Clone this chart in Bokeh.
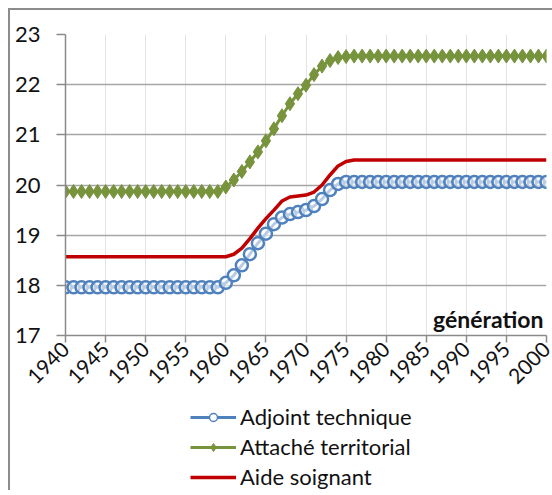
import math
from bokeh.plotting import figure
from bokeh.layouts import column
from bokeh.models import (Range1d, FixedTicker, Legend, LegendItem, Label, ColumnDataSource)
from bokeh.embed import file_html
from bokeh.resources import INLINE

years = list(range(1940, 2001))

adjoint_technique = [
    17.96, 17.96, 17.96, 17.96, 17.96, 17.96, 17.96, 17.96, 17.96, 17.96,
    17.96, 17.96, 17.96, 17.96, 17.96, 17.96, 17.96, 17.96, 17.96, 17.96,
    18.05, 18.20, 18.40, 18.62, 18.84, 19.03, 19.22, 19.35, 19.42, 19.46,
    19.50, 19.58, 19.72, 19.90, 20.02, 20.06,
    20.06, 20.06, 20.06, 20.06, 20.06, 20.06, 20.06, 20.06, 20.06, 20.06,
    20.06, 20.06, 20.06, 20.06, 20.06, 20.06, 20.06, 20.06, 20.06, 20.06,
    20.06, 20.06, 20.06, 20.06, 20.06,
]

attache_territorial = [
    19.87, 19.87, 19.87, 19.87, 19.87, 19.87, 19.87, 19.87, 19.87, 19.87,
    19.87, 19.87, 19.87, 19.87, 19.87, 19.87, 19.87, 19.87, 19.87, 19.87,
    19.96, 20.10, 20.27, 20.46, 20.66, 20.88, 21.12, 21.38, 21.62, 21.82,
    21.99, 22.20, 22.37, 22.48, 22.54, 22.56,
    22.57, 22.57, 22.57, 22.57, 22.57, 22.57, 22.57, 22.57, 22.57, 22.57,
    22.57, 22.57, 22.57, 22.57, 22.57, 22.57, 22.57, 22.57, 22.57, 22.57,
    22.57, 22.57, 22.57, 22.57, 22.57,
]

aide_soignant = [
    18.57, 18.57, 18.57, 18.57, 18.57, 18.57, 18.57, 18.57, 18.57, 18.57,
    18.57, 18.57, 18.57, 18.57, 18.57, 18.57, 18.57, 18.57, 18.57, 18.57,
    18.57, 18.62, 18.74, 18.93, 19.14, 19.33, 19.50, 19.68, 19.76, 19.78,
    19.80, 19.86, 20.00, 20.20, 20.38, 20.47,
    20.50, 20.50, 20.50, 20.50, 20.50, 20.50, 20.50, 20.50, 20.50, 20.50,
    20.50, 20.50, 20.50, 20.50, 20.50, 20.50, 20.50, 20.50, 20.50, 20.50,
    20.50, 20.50, 20.50, 20.50, 20.50,
]

x_ticks = [1940, 1945, 1950, 1955, 1960, 1965, 1970, 1975, 1980, 1985, 1990, 1995, 2000]
y_ticks = [17, 18, 19, 20, 21, 22, 23]
series_names = ["Adjoint technique", "Attaché territorial", "Aide soignant"]
axis_title = "génération"

FONT = "Lato"
BLUE = "#4f81bd"
GREEN = "#77933c"
RED = "#c00000"
TXT = "#111111"

src = ColumnDataSource(dict(x=years, a=adjoint_technique, t=attache_territorial, s=aide_soignant))

W = 542
p = figure(width=W, height=390, output_backend="svg", toolbar_location=None,
           x_range=Range1d(1940, 2000), y_range=Range1d(17, 23),
           min_border_left=55, min_border_right=6, min_border_top=24, min_border_bottom=65)
p.outline_line_color = None
p.background_fill_color = "white"
p.border_fill_color = "white"

# grids
p.xgrid.ticker = FixedTicker(ticks=x_ticks)
p.ygrid.ticker = FixedTicker(ticks=y_ticks)
p.xgrid.grid_line_color = "#e3e3e3"
p.xgrid.grid_line_width = 1
p.ygrid.grid_line_color = "#a6a6a6"
p.ygrid.grid_line_width = 1.5

# axes
for ax in (p.xaxis[0], p.yaxis[0]):
    ax.axis_line_color = "#8a8a8a"
    ax.axis_line_width = 1.5
    ax.major_tick_line_color = "#8a8a8a"
    ax.major_tick_line_width = 1.5
    ax.minor_tick_line_color = None
    ax.major_label_text_font = FONT
    ax.major_label_text_font_size = "22px"
    ax.major_label_text_color = TXT
p.xaxis.ticker = FixedTicker(ticks=x_ticks)
p.yaxis.ticker = FixedTicker(ticks=y_ticks)
p.xaxis.major_label_text_font_size = "21px"
p.xaxis.major_tick_out = 7
p.xaxis.major_tick_in = 0
p.yaxis.major_tick_out = 9
p.yaxis.major_tick_in = 0
p.xaxis.major_label_orientation = math.pi / 4
p.xaxis.major_label_standoff = 3
p.yaxis.major_label_standoff = 16

# series
la = p.line("x", "a", source=src, line_color=BLUE, line_width=3)
sa = p.scatter("x", "a", source=src, marker="circle", size=12, line_color=BLUE,
               line_width=2.5, fill_color="white", fill_alpha=0.6)
lt = p.line("x", "t", source=src, line_color=GREEN, line_width=3)
st = p.scatter("x", "t", source=src, marker="diamond", size=14, line_color=GREEN,
               line_width=1, fill_color=GREEN)
ls = p.line("x", "s", source=src, line_color=RED, line_width=3.5)

p.add_layout(Label(x=2000, y=17, x_offset=-3, y_offset=17, text=axis_title,
                   text_align="right", text_baseline="alphabetic",
                   text_font=FONT, text_font_size="23px", text_font_style="bold",
                   text_color=TXT))

# legend strip below the chart (its renderers use the same data, kept out of view)
q = figure(width=W, height=90, output_backend="svg", toolbar_location=None,
           x_range=Range1d(0, 1), y_range=Range1d(0, 1),
           x_axis_location=None, y_axis_location=None,
           min_border_left=0, min_border_right=0, min_border_top=0, min_border_bottom=0)
q.outline_line_color = None
q.xgrid.visible = False
q.ygrid.visible = False
ga1 = q.line("x", "a", source=src, line_color=BLUE, line_width=3)
ga2 = q.scatter("x", "a", source=src, marker="circle", size=12, line_color=BLUE,
                line_width=1.5, fill_color="white")
gt1 = q.line("x", "t", source=src, line_color=GREEN, line_width=3)
gt2 = q.scatter("x", "t", source=src, marker="diamond", size=13, line_color=GREEN,
                line_width=1, fill_color=GREEN)
gs1 = q.line("x", "s", source=src, line_color=RED, line_width=3.5)

legend = Legend(items=[
    LegendItem(label=series_names[0], renderers=[ga1, ga2]),
    LegendItem(label=series_names[1], renderers=[gt1, gt2]),
    LegendItem(label=series_names[2], renderers=[gs1]),
], location=(125, 0), orientation="vertical",
    glyph_width=46, glyph_height=20, label_height=20, spacing=3,
    label_standoff=4, padding=0, margin=0,
    label_text_font=FONT, label_text_font_size="22px", label_text_color=TXT,
    border_line_color=None, background_fill_alpha=0)
q.add_layout(legend, "center")

page = column(p, q, spacing=0)
page.styles = {"border-left": "2px solid #8c8c8c", "border-top": "2px solid #8c8c8c",
               "margin-left": "8px", "margin-top": "8px"}

open("out.html", "w").write(file_html(page, INLINE))
